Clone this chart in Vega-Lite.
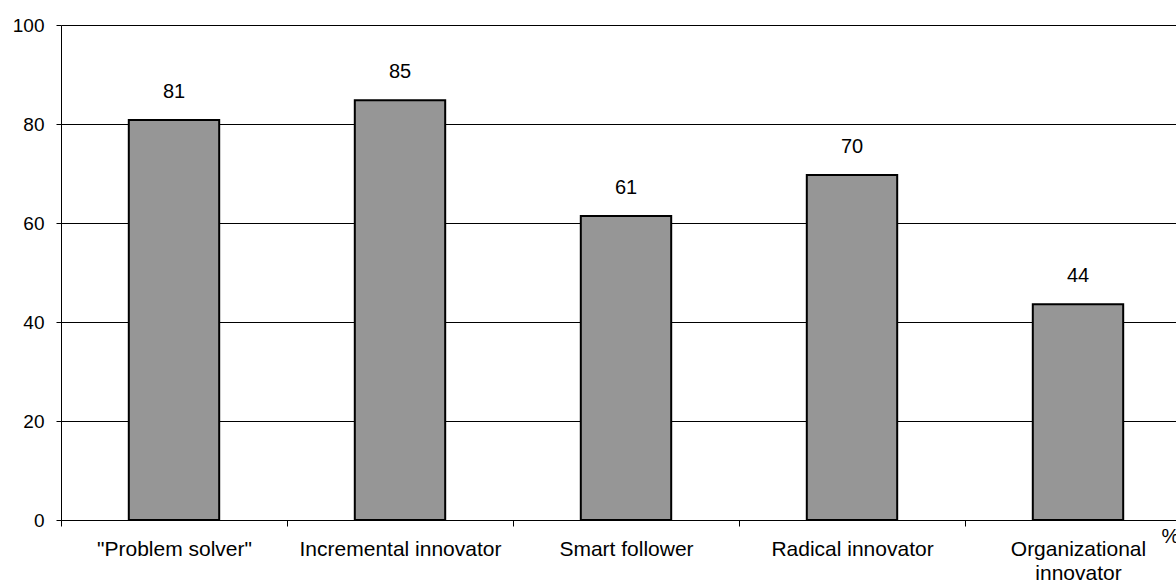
{
  "$schema": "https://vega.github.io/schema/vega-lite/v6.json",
  "autosize": "none",
  "padding": {"left": 61, "top": 25, "right": 0, "bottom": 65},
  "width": 1115,
  "height": 495,
  "background": "white",
  "config": {
    "view": {"stroke": null},
    "font": "Liberation Sans",
    "axis": {"labelFont": "Liberation Sans", "titleFont": "Liberation Sans"}
  },
  "data": {
    "values": [
      {"category": "\"Problem solver\"", "value": 80.8, "label": "81"},
      {"category": "Incremental innovator", "value": 84.8, "label": "85"},
      {"category": "Smart follower", "value": 61.4, "label": "61"},
      {"category": "Radical innovator", "value": 69.7, "label": "70"},
      {"category": "Organizational innovator", "value": 43.6, "label": "44"}
    ]
  },
  "encoding": {
    "x": {
      "field": "category",
      "type": "nominal",
      "sort": null,
      "scale": {"range": [0, 1130], "paddingInner": 0, "paddingOuter": 0},
      "axis": {
        "title": "%",
        "titleX": 1100,
        "titleY": 6,
        "titleAlign": "left",
        "titleBaseline": "top",
        "titleFontSize": 20,
        "titleFontWeight": "normal",
        "titleColor": "black",
        "labelAngle": 0,
        "labelFontSize": 21,
        "labelColor": "black",
        "labelPadding": 12,
        "labelLineHeight": 24,
        "labelBaseline": "top",
        "labelExpr": "datum.label == 'Organizational innovator' ? ['Organizational', 'innovator'] : datum.label",
        "tickBand": "extent",
        "tickSize": 6,
        "tickColor": "black",
        "domainColor": "black",
        "labelLimit": 0
      }
    },
    "y": {
      "field": "value",
      "type": "quantitative",
      "scale": {"domain": [0, 100]},
      "axis": {
        "title": null,
        "values": [0, 20, 40, 60, 80, 100],
        "labelFontSize": 19,
        "labelColor": "black",
        "labelPadding": 12,
        "tickSize": 5,
        "tickColor": "black",
        "domainColor": "black",
        "grid": true,
        "gridColor": "black",
        "gridWidth": 1,
        "gridOpacity": 1
      }
    }
  },
  "layer": [
    {
      "mark": {"type": "bar", "fill": "#969696", "stroke": "black", "strokeWidth": 2, "width": {"band": 0.4}}
    },
    {
      "mark": {"type": "text", "fontSize": 20, "color": "black", "baseline": "alphabetic", "dy": -22},
      "encoding": {"text": {"field": "label"}}
    }
  ]
}
